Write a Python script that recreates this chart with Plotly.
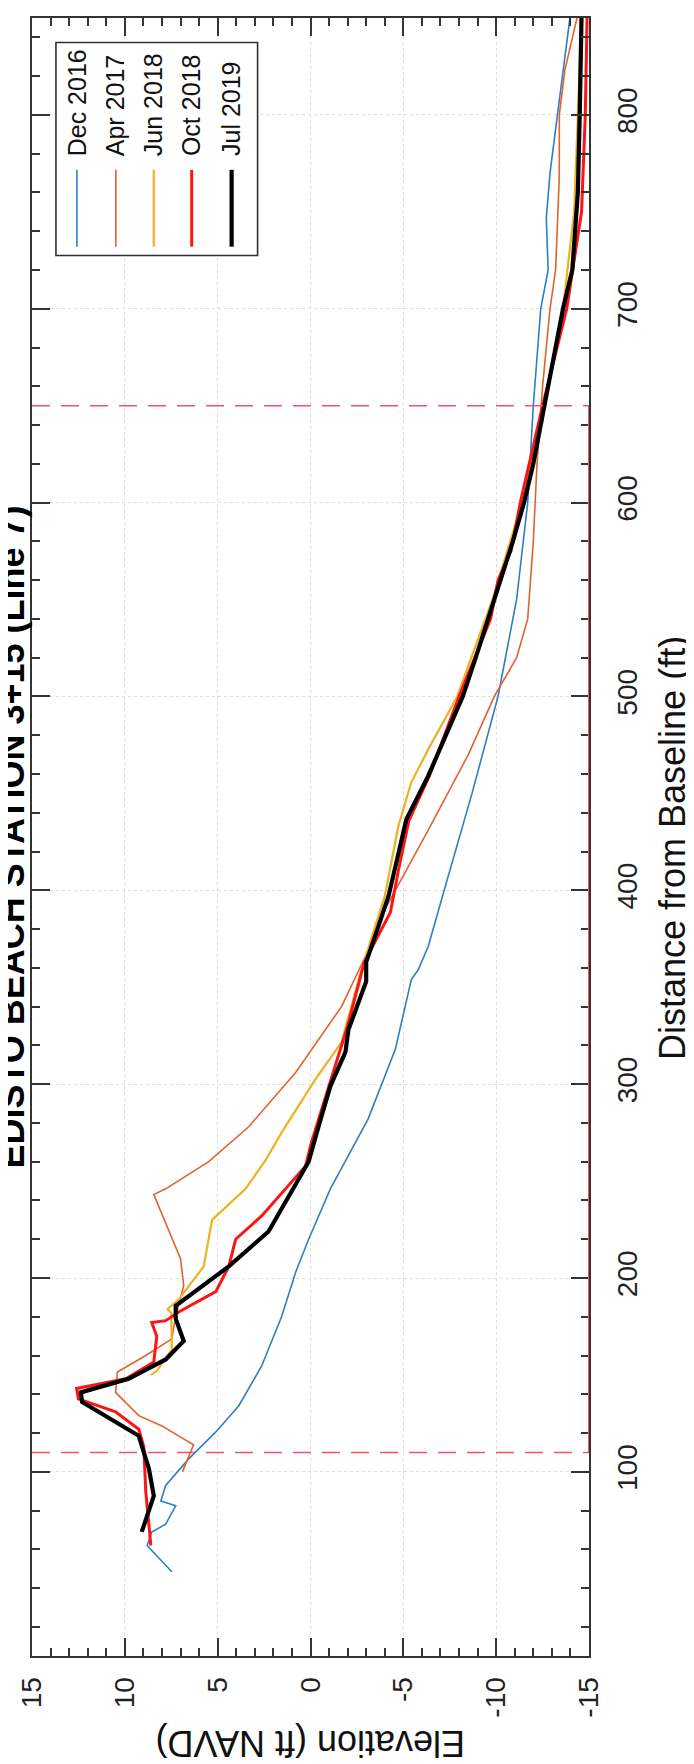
import plotly.graph_objects as go

# ---------------- data (distance from baseline ft, elevation ft NAVD) ----------------
dec2016_dist = [48.5, 62, 69, 73, 82.5, 85, 93, 106.7, 120.6, 134, 154.6, 180, 203, 220, 246, 282, 318,
                354, 359, 371, 400, 450, 500, 550, 600, 650, 700, 720, 747, 770, 800, 830, 852]
dec2016_elev = [7.47, 8.8, 8.55, 7.8, 7.26, 8.06, 7.8, 6.56, 5.1, 3.87, 2.63, 1.56, 0.8, 0.1, -1.07, -3.1, -4.57,
                -5.43, -5.8, -6.34, -7.2, -8.7, -10.1, -11.1, -11.7, -12.0, -12.4, -12.8, -12.7, -12.9, -13.3, -13.7, -14.0]

apr2017_dist = [100, 105, 114, 123.7, 129, 141, 151.5, 160, 168.6, 180.4, 196, 210, 243, 246, 260, 278, 306,
                340, 366, 390, 412, 431, 470, 500, 520, 540, 580, 620, 660, 700, 720, 768, 800, 823, 852]
apr2017_elev = [6.9, 6.7, 6.3, 8.0, 9.25, 10.5, 10.4, 8.87, 7.47, 7.26, 6.83, 7.0, 8.44, 7.8, 5.48, 3.33, 0.8,
                -1.67, -2.96, -4.0, -5.27, -6.34, -8.5, -9.9, -11.1, -11.7, -12.0, -12.2, -12.5, -12.9, -13.2, -13.4, -13.4, -13.7, -14.4]

jun2018_dist = [150, 152, 163, 182, 184, 189, 206, 230, 246, 261, 275, 302.6, 321.6, 359, 397, 433, 455.7,
                472.7, 500, 550, 600, 650, 700, 750, 800, 852]
jun2018_elev = [8.6, 8.28, 7.47, 7.5, 7.7, 7.1, 5.75, 5.3, 3.5, 2.4, 1.56, -0.27, -1.67, -2.74, -4.0, -4.73, -5.43,
                -6.34, -7.9, -9.8, -11.4, -12.6, -13.6, -14.2, -14.4, -14.6]

oct2018_dist = [62, 89.7, 113, 122, 131, 137.6, 143, 148, 156.7, 170, 177, 178, 182.5, 193, 206, 220, 232, 246,
                257.7, 270, 299, 330, 363, 388.6, 411, 436, 459, 500, 540, 560, 575, 600, 650, 700, 750, 800, 852]
oct2018_elev = [8.6, 8.87, 8.98, 9.25, 10.5, 12.5, 12.6, 9.95, 8.44, 8.28, 8.55, 7.8, 7.1, 5.1, 4.4, 4.03, 2.63, 1.34,
                0.27, -0.05, -1.0, -2.0, -2.9, -4.3, -4.75, -5.3, -6.4, -8.0, -9.7, -10.1, -10.8, -11.3, -12.5, -13.8, -14.6, -14.8, -14.9]

jul2019_dist = [69, 87.6, 101.5, 118.6, 136, 141, 148, 158, 167.5, 179, 185.6, 206, 224, 246, 260, 278, 299,
                316.5, 328, 353, 363, 381.5, 397, 417.5, 436.6, 459, 480, 500, 520, 550, 580, 600, 620, 650, 680,
                700, 720, 760, 800, 852]
jul2019_elev = [9.09, 8.44, 8.7, 9.25, 12.3, 12.37, 9.8, 7.8, 6.83, 7.26, 7.26, 4.4, 2.26, 0.91, 0.1, -0.43, -1.07,
                -1.88, -2.04, -3.0, -3.0, -3.66, -4.2, -4.7, -5.16, -6.34, -7.3, -8.2, -8.9, -9.9, -10.9, -11.5, -12.0, -12.6, -13.2,
                -13.6, -14.1, -14.4, -14.5, -14.6]

series_names = ["Dec 2016", "Apr 2017", "Jun 2018", "Oct 2018", "Jul 2019"]
series_colors = ["#2f7fc4", "#e2622e", "#f0b11e", "#ff1414", "#000000"]
series_widths = [1.6, 1.6, 2.2, 3.0, 4.2]
series_dist = [dec2016_dist, apr2017_dist, jun2018_dist, oct2018_dist, jul2019_dist]
series_elev = [dec2016_elev, apr2017_elev, jun2018_elev, oct2018_elev, jul2019_elev]

elev_ticks = [15, 10, 5, 0, -5, -10, -15]
elev_labels = ["15", "10", "5", "0", "-5", "-10", "-15"]
dist_ticks = [100, 200, 300, 400, 500, 600, 700, 800]
dist_labels = ["100", "200", "300", "400", "500", "600", "700", "800"]
dashed_dists = [110, 650]
closure_elev = -15

FONT = "Liberation Sans, Arial, Helvetica, sans-serif"
AX = "#333333"
GRID = "#dcdcdc"

fig = go.Figure()
for name, d, e, c, w in zip(series_names, series_dist, series_elev, series_colors, series_widths):
    fig.add_trace(go.Scatter(x=e, y=d, mode="lines", name=name,
                             line=dict(color=c, width=w), showlegend=False))

shapes = []
for dd in dashed_dists:
    shapes.append(dict(type="line", xref="x domain", x0=0, x1=1, yref="y", y0=dd, y1=dd,
                       line=dict(color="#ec5470", width=1.6, dash="18px,11px"), layer="above"))
shapes.append(dict(type="line", xref="x", x0=closure_elev, x1=closure_elev, yref="y",
                   y0=dashed_dists[0], y1=dashed_dists[1],
                   line=dict(color="#e85a70", width=2), layer="above"))

# manual rotated legend (paper coords)
lx0, lx1, ly0, ly1 = 0.043, 0.405, 0.855, 0.985
shapes.append(dict(type="rect", xref="paper", yref="paper", x0=lx0, x1=lx1, y0=ly0, y1=ly1,
                   line=dict(color="#303030", width=1.6), fillcolor="white", layer="above"))
entry_x = [0.0806, 0.1505, 0.2186, 0.2867, 0.3584]
annotations = []
for x, name, c, w in zip(entry_x, series_names, series_colors, series_widths):
    shapes.append(dict(type="line", xref="paper", yref="paper", x0=x, x1=x, y0=0.8604, y1=0.9073,
                       line=dict(color=c, width=w), layer="above"))
    annotations.append(dict(xref="paper", yref="paper", x=x, y=0.9146, text=name, showarrow=False,
                            textangle=-90, xanchor="center", yanchor="bottom",
                            font=dict(family=FONT, size=25, color="#111")))

# axis titles and chart title, rotated like the reference
annotations.append(dict(xref="paper", yref="paper", x=0.5, y=-0.053, text="Elevation (ft NAVD)",
                        showarrow=False, textangle=180, xanchor="center", yanchor="middle",
                        font=dict(family=FONT, size=36, color="#111")))
annotations.append(dict(xref="paper", yref="paper", x=1.15, y=0.493, text="Distance from Baseline (ft)",
                        showarrow=False, textangle=-90, xanchor="center", yanchor="middle",
                        font=dict(family=FONT, size=36, color="#111")))
annotations.append(dict(xref="paper", yref="paper", x=0.002, y=0.5,
                        text="<b>EDISTO BEACH STATION 3+15 (Line 7)</b>",
                        showarrow=False, textangle=-90, xanchor="right", yanchor="middle",
                        font=dict(family=FONT, size=36, color="#000")))

fig.update_layout(
    width=694, height=1764,
    margin=dict(l=23, r=113, t=8, b=116),
    paper_bgcolor="white", plot_bgcolor="white",
    showlegend=False,
    shapes=shapes, annotations=annotations,
    xaxis=dict(range=[15, -15], tickmode="array", tickvals=elev_ticks, ticktext=elev_labels,
               tickangle=-90, tickfont=dict(family=FONT, size=28, color="#222"),
               ticks="inside", ticklen=18, tickwidth=1.6, tickcolor=AX,
               ticklabelstandoff=8,
               minor=dict(dtick=1, tick0=0, ticks="inside", ticklen=8, tickwidth=1.5, tickcolor=AX, showgrid=False),
               showline=True, linecolor=AX, linewidth=2, mirror="ticks",
               showgrid=True, gridcolor=GRID, gridwidth=1, griddash="dot", zeroline=False),
    yaxis=dict(range=[5, 850], side="right", tickmode="array", tickvals=dist_ticks, ticktext=dist_labels,
               tickangle=-90, tickfont=dict(family=FONT, size=28, color="#222"),
               ticks="inside", ticklen=18, tickwidth=1.6, tickcolor=AX,
               ticklabelstandoff=12,
               minor=dict(dtick=20, tick0=0, ticks="inside", ticklen=8, tickwidth=1.5, tickcolor=AX, showgrid=False),
               showline=True, linecolor=AX, linewidth=2, mirror="ticks",
               showgrid=True, gridcolor=GRID, gridwidth=1, griddash="dot", zeroline=False),
)

fig.write_html("out.html")
